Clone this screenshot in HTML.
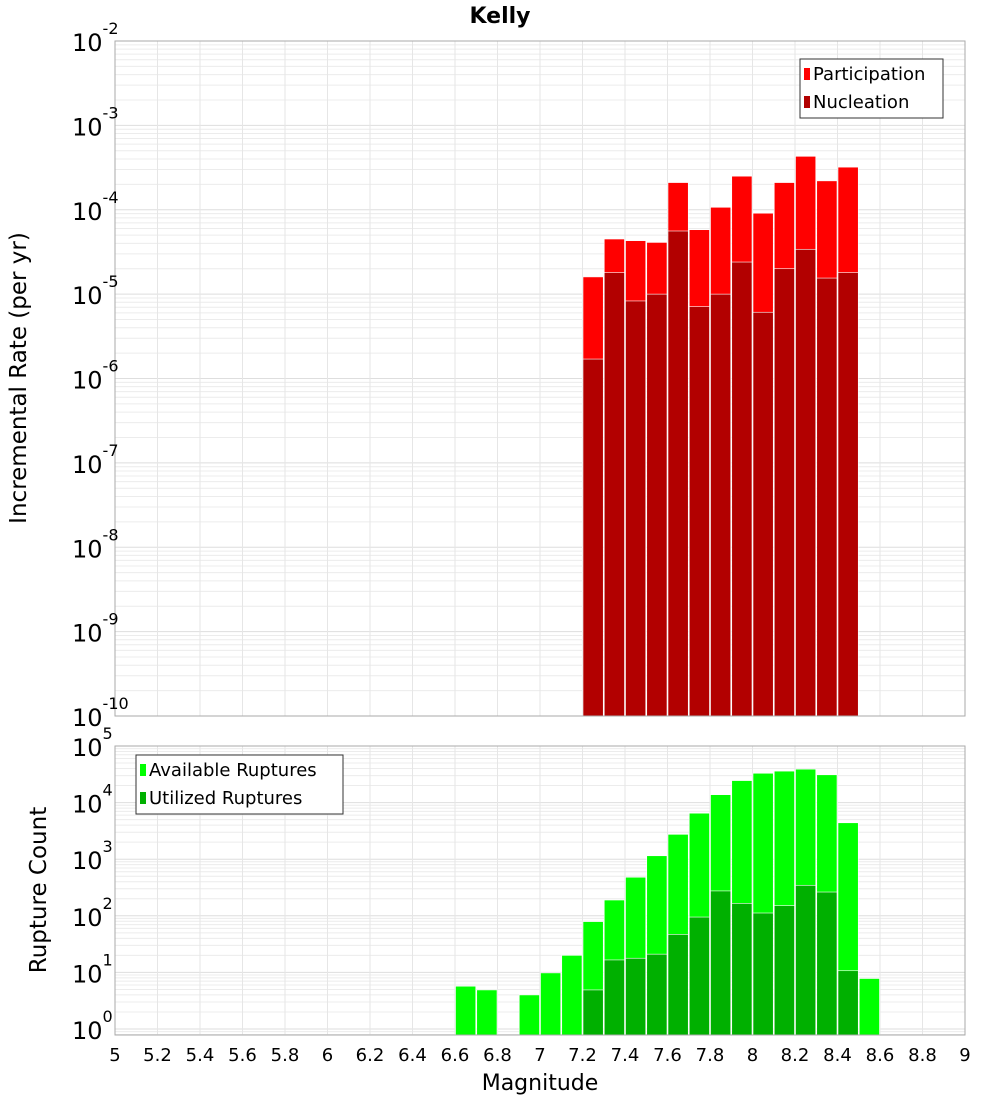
<!DOCTYPE html>
<html><head><meta charset="utf-8"><style>
body{margin:0;background:#fff;font-family:"Liberation Sans","DejaVu Sans",sans-serif}
svg text{font-family:"DejaVu Sans","Liberation Sans",sans-serif}
</style></head><body>
<svg id="c" width="1000" height="1100" xmlns="http://www.w3.org/2000/svg"></svg>
<script>
const xTicks=[5,5.2,5.4,5.6,5.8,6,6.2,6.4,6.6,6.8,7,7.2,7.4,7.6,7.8,8,8.2,8.4,8.6,8.8,9];
const xTickLabels=["5","5.2","5.4","5.6","5.8","6","6.2","6.4","6.6","6.8","7","7.2","7.4","7.6","7.8","8","8.2","8.4","8.6","8.8","9"];
const rateBins=[7.25,7.35,7.45,7.55,7.65,7.75,7.85,7.95,8.05,8.15,8.25,8.35,8.45];
const participation=[1.6e-5,4.5e-5,4.3e-5,4.1e-5,2.1e-4,5.8e-5,1.07e-4,2.5e-4,9.1e-5,2.1e-4,4.3e-4,2.2e-4,3.2e-4];
const nucleation=[1.7e-6,1.8e-5,8.3e-6,1.0e-5,5.6e-5,7.1e-6,1.0e-5,2.4e-5,6.1e-6,2.0e-5,3.4e-5,1.55e-5,1.8e-5];
const countBins=[6.65,6.75,6.95,7.05,7.15,7.25,7.35,7.45,7.55,7.65,7.75,7.85,7.95,8.05,8.15,8.25,8.35,8.45,8.55];
const available=[5.7,4.9,4.0,9.8,20,79,190,480,1150,2750,6500,13800,24500,33000,36000,39000,31000,4400,7.8];
const utilizedBins=[7.25,7.35,7.45,7.55,7.65,7.75,7.85,7.95,8.05,8.15,8.25,8.35,8.45];
const utilized=[4.9,16.6,17.8,21,47,95,275,166,112,151,346,263,10.7];
const topExps=[-2,-3,-4,-5,-6,-7,-8,-9,-10];
const botExps=[5,4,3,2,1,0];

const svg=document.getElementById('c');const NS='http://www.w3.org/2000/svg';
function el(t,a,txt){const e=document.createElementNS(NS,t);for(const k in a)e.setAttribute(k,a[k]);if(txt!=null)e.textContent=txt;svg.appendChild(e);return e;}
const X0=115,X1=965;
const xs=v=>X0+(v-5)/4*(X1-X0);
const T0=41,T1=716;const yT=v=>T0+(-2-Math.log10(v))*(T1-T0)/8;
const B0=746,B1=1035;const DB=56.6;const yB=v=>B0+(5-Math.log10(v))*DB;

function grid(top,bot,ylog,lo,hi){
  for(let d=lo;d<hi;d++)for(let m=1;m<10;m++){const y=ylog(m*Math.pow(10,d));if(y<top-0.5||y>bot+0.5)continue;
    const g=el('line',{x1:X0,x2:X1,y1:y,y2:y,stroke:m==1?'#dedede':'#ececec','stroke-width':1});
    }
  xTicks.forEach(t=>{const x=xs(t);const g=el('line',{x1:x,x2:x,y1:top,y2:bot,stroke:'#e6e6e6'});
    });
}
grid(T0,T1,yT,-10,-2);
grid(B0,B1,yB,-1,5);

function bars(bins,vals,ys,bot,color,name){
  bins.forEach((b,i)=>{const x=xs(b-0.05),w=xs(b+0.05)-x;const y=ys(vals[i]);
    const r=el('rect',{x:x+0.5,y:y,width:w-1,height:bot-y,fill:color,stroke:'#fff','stroke-width':0.6});
    });
}
bars(rateBins,participation,yT,T1,'#ff0000','participation-bar');
bars(rateBins,nucleation,yT,T1,'#b20000','nucleation-bar');
bars(countBins,available,yB,B1,'#00ff00','available-bar');
bars(utilizedBins,utilized,yB,B1,'#00b000','utilized-bar');

[[T0,T1],[B0,B1]].forEach(([a,b])=>{const r=el('rect',{x:X0,y:a,width:X1-X0,height:b-a,fill:'none',stroke:'#aaa'});
  });

function ylab(e,y){const t=el('text',{x:72,y:y+10,'font-size':24,fill:'#000'});
  
  const a=document.createElementNS(NS,'tspan');a.textContent='10';t.appendChild(a);
  const s=document.createElementNS(NS,'tspan');s.setAttribute('dy','-17');s.setAttribute('font-size','16');s.textContent=String(e);t.appendChild(s);}
topExps.forEach(e=>ylab(e,yT(Math.pow(10,e))));
botExps.forEach(e=>ylab(e,Math.min(yB(Math.pow(10,e)),1030)));

xTicks.forEach((t,i)=>{const tx=el('text',{x:xs(t),y:1061,'font-size':18,'text-anchor':'middle'},xTickLabels[i]);
  });

let t=el('text',{x:500,y:23,'font-size':22,'font-weight':'bold','text-anchor':'middle'},'Kelly');

t=el('text',{x:540,y:1090,'font-size':22,'text-anchor':'middle'},'Magnitude');

t=el('text',{x:0,y:0,'font-size':23,'text-anchor':'middle',transform:'translate(26,378) rotate(-90)'},'Incremental Rate (per yr)');

t=el('text',{x:0,y:0,'font-size':23,'text-anchor':'middle',transform:'translate(46,890) rotate(-90)'},'Rupture Count');


function legend(x,y,w,items,name){
  const r=el('rect',{x:x,y:y,width:w,height:59,fill:'#fff',stroke:'#333'});
  
  items.forEach((it,i)=>{const yy=y+14+i*28;
    const s=el('rect',{x:x+4,y:yy-5,width:6,height:12,fill:it[1]});
    
    const tt=el('text',{x:x+13,y:yy+7,'font-size':18},it[0]);
    });
}
legend(800,59,143,[['Participation','#ff0000'],['Nucleation','#b20000']],'top-legend');
legend(136,755,207,[['Available Ruptures','#00ff00'],['Utilized Ruptures','#00b000']],'bottom-legend');
</script>
</body></html>
